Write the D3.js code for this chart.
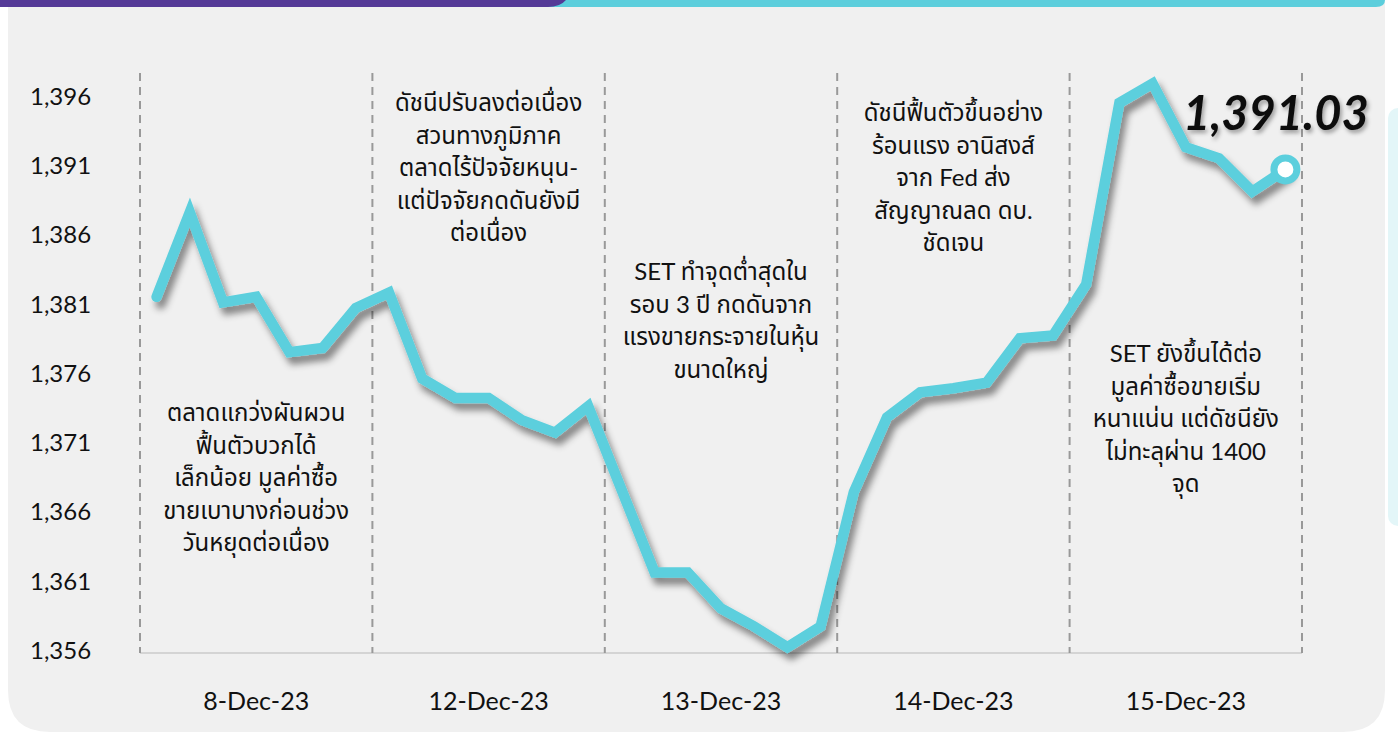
<!DOCTYPE html>
<html><head><meta charset="utf-8">
<script src="https://cdn.jsdelivr.net/npm/d3@7"></script>
<style>
body{margin:0;background:#fff;overflow:hidden}
text{font-family:"Lato","Noto Sans Thai","Noto Sans","DejaVu Sans",sans-serif;fill:#111}
</style>
</head><body><svg id="c" width="1398" height="732"></svg>
<script>
// ---------------- data ----------------
const days = ["8-Dec-23","12-Dec-23","13-Dec-23","14-Dec-23","15-Dec-23"];
const values = [
  1381.5,1387.6,1381.1,1381.5,1377.5,1377.8,1380.7,
  1381.8,1375.6,1374.2,1374.2,1372.6,1371.7,1373.6,
  1367.6,1361.6,1361.6,1359.0,1357.7,1356.2,1357.7,
  1367.4,1372.8,1374.6,1374.9,1375.3,1378.5,1378.7,
  1382.4,1395.5,1396.9,1392.3,1391.5,1389.1,1390.7
];
const yTicks = [1356,1361,1366,1371,1376,1381,1386,1391,1396];
const lastLabel = "1,391.03";
const notes = [
  ["ตลาดแกว่งผันผวน","ฟื้นตัวบวกได้","เล็กน้อย มูลค่าซื้อ","ขายเบาบางก่อนช่วง","วันหยุดต่อเนื่อง"],
  ["ดัชนีปรับลงต่อเนื่อง","สวนทางภูมิภาค","ตลาดไร้ปัจจัยหนุน-","แต่ปัจจัยกดดันยังมี","ต่อเนื่อง"],
  ["SET ทำจุดต่ำสุดใน","รอบ 3 ปี กดดันจาก","แรงขายกระจายในหุ้น","ขนาดใหญ่"],
  ["ดัชนีฟื้นตัวขึ้นอย่าง","ร้อนแรง อานิสงส์","จาก Fed ส่ง","สัญญาณลด ดบ.","ชัดเจน"],
  ["SET ยังขึ้นได้ต่อ","มูลค่าซื้อขายเริ่ม","หนาแน่น แต่ดัชนียัง","ไม่ทะลุผ่าน 1400","จุด"]
];

// ---------------- layout ----------------
const svg = d3.select("#c");
const L = 140, R = 1302, TOP = 73, BASE = 653;
const noteTop = [413, 103, 272, 113, 354];
const lineH = 32.4;

const defs = svg.append("defs");
const f = defs.append("filter").attr("id","sh").attr("x","-20%").attr("y","-20%").attr("width","140%").attr("height","140%");
f.append("feDropShadow").attr("dx",4).attr("dy",7).attr("stdDeviation",3.5)
 .attr("flood-color","#000").attr("flood-opacity",0.45);
const f2 = defs.append("filter").attr("id","tsh").attr("x","-20%").attr("y","-20%").attr("width","140%").attr("height","140%");
f2.append("feDropShadow").attr("dx",2).attr("dy",3).attr("stdDeviation",2)
 .attr("flood-color","#000").attr("flood-opacity",0.35);

// background panel
svg.append("rect").attr("x",1388).attr("y",108).attr("width",30).attr("height",418).attr("rx",10).attr("fill","#e3f6f8");
svg.append("path").attr("fill","#f0f0f0")
  .attr("d","M8,0 H1385 V690 Q1385,732 1343,732 H50 Q8,732 8,690 Z");
// top bars
svg.append("path").attr("fill","#5ccedc")
  .attr("d","M540,0 H1385 V0 Q1385,7 1376,7 H540 Z");
svg.append("path").attr("fill","#553a97")
  .attr("d","M0,0 H566 Q560,7 548,7 H0 Z");

// scales
const xDay = d3.scaleBand().domain(days).range([L,R]);
const xIdx = d3.scaleBand().domain(d3.range(values.length)).range([L,R]);
const xi = i => xIdx(i) + xIdx.bandwidth()/2;
const y = d3.scaleLinear().domain([1356,1396]).range([650,96]);

// baseline
svg.append("line").attr("x1",L).attr("x2",R).attr("y1",BASE).attr("y2",BASE)
  .attr("stroke","#d4d4d4").attr("stroke-width",2);
// dashed separators
const seps = days.map(d => xDay(d)).concat([R]);
svg.selectAll(".sep").data(seps).join("line").attr("class","sep")
  .attr("x1",d=>d).attr("x2",d=>d).attr("y1",TOP).attr("y2",BASE)
  .attr("stroke","#999").attr("stroke-width",2).attr("stroke-dasharray","8,6");

// y axis
const yAxis = svg.append("g").attr("transform","translate(30,0)")
  .call(d3.axisLeft(y).tickValues(yTicks).tickFormat(d3.format(",")).tickSize(0).tickPadding(0));
yAxis.select(".domain").remove();
yAxis.selectAll("text").style("font-size","24px").attr("dy","0.35em")
  .attr("text-anchor","start").attr("x",0);

// x axis
const xAxis = svg.append("g").attr("transform","translate(0,690)")
  .call(d3.axisBottom(xDay).tickSize(0).tickPadding(0));
xAxis.select(".domain").remove();
xAxis.selectAll("text").style("font-size","25px").attr("dy","0.35em").attr("y",11);

// notes
notes.forEach((lines,k) => {
  const cx = xDay(days[k]) + xDay.bandwidth()/2;
  svg.append("g").selectAll("text").data(lines).join("text")
    .attr("x",cx).attr("y",(d,j)=>noteTop[k] + j*lineH)
    .attr("text-anchor","middle").attr("dy","0.35em")
    .style("font-size","24px").text(d=>d);
});

// line
const line = d3.line().x((d,i)=>xi(i)).y(d=>y(d)).curve(d3.curveLinear);
svg.append("path").datum(values).attr("d",line)
  .attr("fill","none").attr("stroke","#5ccfdd").attr("stroke-width",10.5)
  .attr("stroke-linejoin","miter").attr("stroke-linecap","round")
  .attr("filter","url(#sh)");

// last point marker
const li = values.length-1;
svg.append("circle").attr("cx",xi(li)).attr("cy",y(values[li])).attr("r",11.5)
  .attr("fill","#fff").attr("stroke","#5ccfdd").attr("stroke-width",7);

// last label
svg.append("text").attr("x",1183).attr("y",130)
  .style("font-size","47px").style("font-weight","bold").style("font-style","italic")
  .attr("filter","url(#tsh)").text(lastLabel);
</script>
</body></html>
